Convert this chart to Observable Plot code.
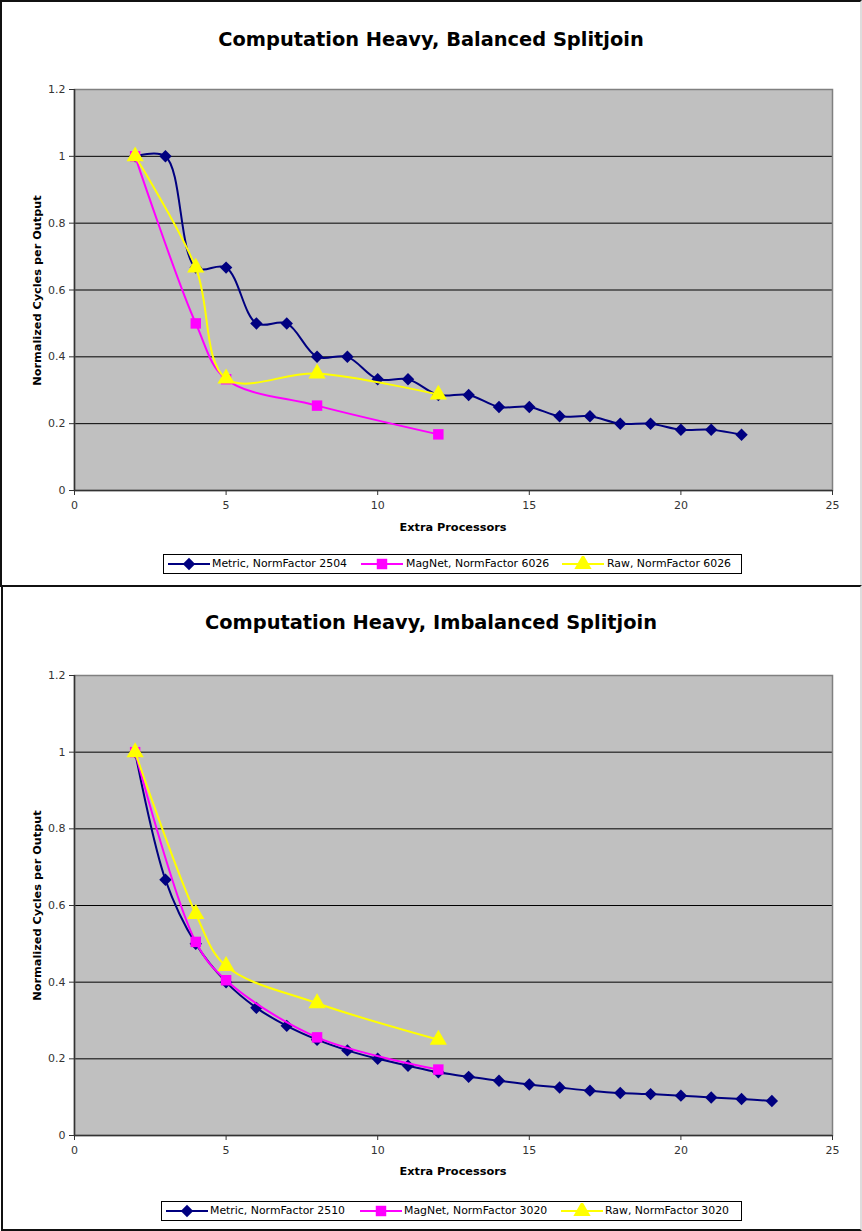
<!DOCTYPE html>
<html><head><meta charset="utf-8">
<script src="https://cdn.jsdelivr.net/npm/d3@7"></script>
<script src="https://cdn.jsdelivr.net/npm/@observablehq/plot@0.6"></script>
<style>
body{margin:0;background:#fff;font-family:"DejaVu Sans",Verdana,sans-serif;}
#root{position:relative;width:862px;height:1231px;overflow:hidden;}
.panel{position:absolute;box-sizing:border-box;border:2px solid #111;border-right-color:#ddd;}
.title{position:absolute;left:0;width:862px;text-align:center;font-weight:bold;font-size:19.4px;color:#000;line-height:22px;}
.xlab{position:absolute;left:74px;width:758px;text-align:center;font-weight:bold;font-size:11.3px;line-height:13px;color:#000;}
.ylab{position:absolute;width:300px;text-align:center;font-weight:bold;font-size:11.3px;line-height:13px;color:#000;transform:rotate(-90deg);transform-origin:center center;}
.legend{position:absolute;box-sizing:border-box;border:1px solid #000;background:#fff;}
.legend svg{position:absolute;display:block;}
.legend span{position:absolute;font-size:10.9px;line-height:18px;color:#000;white-space:nowrap;}
</style>
</head><body><div id="root"></div>
<script>
// ---------- data ----------
const xTicks = [0, 5, 10, 15, 20, 25];
const yTicks = [0, 0.2, 0.4, 0.6, 0.8, 1, 1.2];
const gridTicks = [0.2, 0.4, 0.6, 0.8, 1];

// Chart 1: Computation Heavy, Balanced Splitjoin
const balMetricX = [2,3,4,5,6,7,8,9,10,11,12,13,14,15,16,17,18,19,20,21,22];
const balMetricY = [1,1,0.667,0.667,0.5,0.5,0.4,0.4,0.333,0.333,0.286,0.286,0.25,0.25,0.222,0.222,0.2,0.2,0.182,0.182,0.167];
const balMagX = [2,4,5,8,12];
const balMagY = [1,0.5,0.333,0.254,0.168];
const balRawX = [2,4,5,8,12];
const balRawY = [1,0.667,0.335,0.35,0.287];
const balLegend = ["Metric, NormFactor 2504", "MagNet, NormFactor 6026", "Raw, NormFactor 6026"];

// Chart 2: Computation Heavy, Imbalanced Splitjoin
const imbMetricX = [2,3,4,5,6,7,8,9,10,11,12,13,14,15,16,17,18,19,20,21,22,23];
const imbMetricY = [1,0.667,0.5,0.4,0.333,0.286,0.25,0.222,0.2,0.182,0.165,0.153,0.143,0.133,0.125,0.117,0.111,0.108,0.104,0.099,0.095,0.09];
const imbMagX = [2,4,5,8,12];
const imbMagY = [1,0.505,0.405,0.256,0.172];
const imbRawX = [2,4,5,8,12];
const imbRawY = [1,0.578,0.442,0.345,0.25];
const imbLegend = ["Metric, NormFactor 2510", "MagNet, NormFactor 3020", "Raw, NormFactor 3020"];

const titles = ["Computation Heavy, Balanced Splitjoin", "Computation Heavy, Imbalanced Splitjoin"];
const xLabel = "Extra Processors";
const yLabel = "Normalized Cycles per Output";

// ---------- styling ----------
const seriesStyle = [
  {color:"#000080", symbol:"diamond2", r:5.6},
  {color:"#FF00FF", symbol:"square", r:5.9},
  {color:"#FFFF00", symbol:"triangle", r:6.4}
];

function rows(xs, ys){ return xs.map((x,i)=>({x, y: ys[i]})); }

function makeChart(series, h, mb){
  const marks = [
    Plot.frame({fill:"#C0C0C0", stroke:null}),
    Plot.gridY(gridTicks, {stroke:"#000", strokeOpacity:1, strokeWidth:1}),
    Plot.frame({stroke:"#808080", strokeWidth:1.5}),
    Plot.axisY(yTicks, {tickSize:5, tickPadding:4, tickFormat:d=>String(d), label:null, stroke:"#333", fill:"#333"}),
    Plot.axisX(xTicks, {tickSize:5, tickPadding:6, label:null, stroke:"#333", fill:"#333"}),
    Plot.ruleX([0], {stroke:"#333", strokeWidth:1.5}),
    Plot.ruleY([0], {stroke:"#333", strokeWidth:1.5})
  ];
  series.forEach((s,i)=>{
    const st = seriesStyle[i];
    marks.push(Plot.line(s, {x:"x", y:"y", stroke:st.color, strokeWidth:2, curve:"catmull-rom"}));
    marks.push(Plot.dot(s, {x:"x", y:"y", symbol:st.symbol, fill:st.color, stroke:null, r:st.r}));
  });
  return Plot.plot({
    width:862, height:h,
    marginTop:19, marginBottom:mb, marginLeft:74, marginRight:30,
    x:{domain:[0,25]},
    y:{domain:[0,1.2]},
    style:{fontFamily:"DejaVu Sans, Verdana, sans-serif", fontSize:"11px", background:"transparent", overflow:"visible"},
    marks
  });
}

function legendIcon(i){
  const st = seriesStyle[i];
  const ns = "http://www.w3.org/2000/svg";
  const svg = document.createElementNS(ns,"svg");
  svg.setAttribute("width", 42); svg.setAttribute("height", 16);
  const line = document.createElementNS(ns,"line");
  line.setAttribute("x1",0); line.setAttribute("x2",42); line.setAttribute("y1",8); line.setAttribute("y2",8);
  line.setAttribute("stroke", st.color); line.setAttribute("stroke-width", 2);
  svg.appendChild(line);
  const p = document.createElementNS(ns,"path");
  const sym = {diamond2:d3.symbolDiamond2, square:d3.symbolSquare, triangle:d3.symbolTriangle}[st.symbol];
  p.setAttribute("d", d3.symbol(sym, st.r*st.r*Math.PI)());
  p.setAttribute("transform","translate(21,8)");
  p.setAttribute("fill", st.color);
  svg.appendChild(p);
  return svg;
}

function addPanel(cfg){
  const root = document.getElementById("root");
  const panel = document.createElement("div");
  panel.className = "panel";
  Object.assign(panel.style, {left:cfg.px+"px", top:cfg.py+"px", width:cfg.pw+"px", height:cfg.ph+"px"});
  root.appendChild(panel);

  const t = document.createElement("div");
  t.className = "title"; t.textContent = cfg.title;
  t.style.top = (cfg.titleY-11)+"px";
  root.appendChild(t);

  const chart = makeChart(cfg.series, cfg.svgH, cfg.mb);
  chart.style.position = "absolute"; chart.style.left = "0px"; chart.style.top = cfg.svgTop+"px";
  root.appendChild(chart);

  const xl = document.createElement("div");
  xl.className = "xlab"; xl.textContent = xLabel; xl.style.top = (cfg.xlabY-6)+"px";
  root.appendChild(xl);

  const yl = document.createElement("div");
  yl.className = "ylab"; yl.textContent = yLabel;
  yl.style.left = (cfg.ylabX-150)+"px"; yl.style.top = (cfg.ylabY-6)+"px";
  root.appendChild(yl);

  const lg = document.createElement("div");
  lg.className = "legend";
  Object.assign(lg.style, {left:cfg.lx+"px", top:cfg.ly+"px", width:cfg.lw+"px", height:cfg.lh+"px"});
  cfg.legend.forEach((name,i)=>{
    const ic = legendIcon(i);
    ic.style.left = (cfg.iconX[i]-cfg.lx-1)+"px"; ic.style.top = "1px";
    lg.appendChild(ic);
    const sp = document.createElement("span"); sp.textContent = name;
    sp.style.left = (cfg.textX[i]-cfg.lx-1)+"px"; sp.style.top = "0px";
    lg.appendChild(sp);
  });
  root.appendChild(lg);
}

addPanel({
  px:0, py:0, pw:862, ph:587,
  title:titles[0], titleY:40,
  series:[rows(balMetricX,balMetricY), rows(balMagX,balMagY), rows(balRawX,balRawY)],
  svgTop:70, svgH:470, mb:50,
  xlabY:527, ylabX:37, ylabY:290,
  legend:balLegend, lx:163, ly:554, lw:579, lh:20,
  iconX:[168,361,562], textX:[212,406,607]
});
addPanel({
  px:1, py:585, pw:861, ph:646,
  title:titles[1], titleY:623,
  series:[rows(imbMetricX,imbMetricY), rows(imbMagX,imbMagY), rows(imbRawX,imbRawY)],
  svgTop:656, svgH:530, mb:51,
  xlabY:1171, ylabX:37, ylabY:905,
  legend:imbLegend, lx:161, ly:1201, lw:581, lh:20,
  iconX:[166,360,561], textX:[210,404,605]
});
</script>
</body></html>
